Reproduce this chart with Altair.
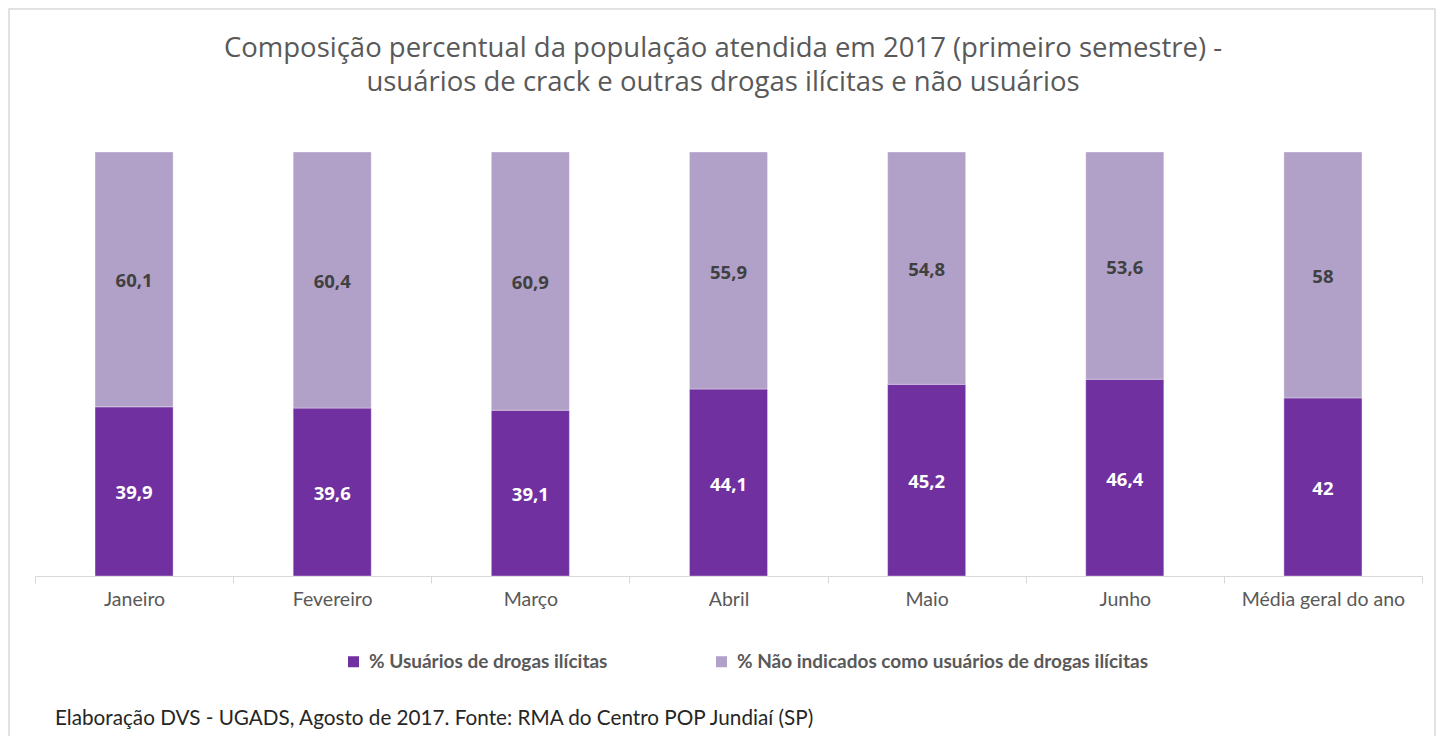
import altair as alt
import pandas as pd

categories = ["Janeiro", "Fevereiro", "Março", "Abril", "Maio", "Junho", "Média geral do ano"]
usuarios = [39.9, 39.6, 39.1, 44.1, 45.2, 46.4, 42]
nao_usuarios = [60.1, 60.4, 60.9, 55.9, 54.8, 53.6, 58]
series = ["% Usuários de drogas ilícitas", "% Não indicados como usuários de drogas ilícitas"]
colors = ["#7030A0", "#B1A0C7"]
label_colors = ["#FFFFFF", "#404040"]
title_lines = [
    "Composição percentual da população atendida em 2017 (primeiro semestre) -",
    "usuários de crack e outras drogas ilícitas e não usuários",
]
footnote = "Elaboração DVS - UGADS, Agosto de 2017. Fonte: RMA do Centro POP Jundiaí (SP)"

rows = []
for i, c in enumerate(categories):
    for s_i, (s, vals) in enumerate(zip(series, [usuarios, nao_usuarios])):
        v = vals[i]
        rows.append({"cat": c, "serie": s, "ord": s_i, "value": v,
                     "label": ("%g" % v).replace(".", ",")})
df = pd.DataFrame(rows)

base = alt.Chart(df).transform_stack(
    stack="value", groupby=["cat"], as_=["y0", "y1"], sort=[alt.SortField("ord")]
).transform_calculate(mid="(datum.y0 + datum.y1) / 2")

xenc = alt.X(
    "cat:N", sort=categories,
    scale=alt.Scale(paddingInner=0, paddingOuter=0),
    axis=alt.Axis(title=None, labelAngle=0, tickBand="extent", domainColor="#D9D9D9",
                  tickColor="#D9D9D9", tickSize=7, labelFont="Lato", labelFontSize=19.5,
                  labelColor="#595959", labelPadding=7, labelLimit=0),
)
yscale = alt.Scale(domain=[0, 100])

bars = base.mark_bar(width=alt.RelativeBandSize(0.394), stroke="white",
                     strokeOpacity=0.35, strokeWidth=1).encode(
    x=xenc,
    y=alt.Y("y0:Q", scale=yscale, axis=None),
    y2="y1:Q",
    color=alt.Color("serie:N", scale=alt.Scale(domain=series, range=colors),
                    legend=alt.Legend(title=None, orient="none", legendX=309, legendY=500,
                                      direction="horizontal", symbolType="square",
                                      symbolSize=121, symbolStrokeWidth=0, labelOffset=6,
                                      labelFont="Lato", labelFontSize=19,
                                      labelFontWeight="bold", labelColor="#595959",
                                      columnPadding=104, labelLimit=0)),
)

labels = base.mark_text(font="Open Sans", fontSize=18.5, fontWeight="bold", dy=2).encode(
    x=alt.X("cat:N", sort=categories),
    y=alt.Y("mid:Q", scale=yscale),
    text="label:N",
    color=alt.Color("serie:N", scale=alt.Scale(domain=series, range=label_colors), legend=None),
)

title = alt.Chart(pd.DataFrame({"a": [0]})).mark_text(
    align="center", baseline="alphabetic", font="Open Sans", fontSize=27.5,
    color="#595959", lineHeight=34
).encode(text=alt.value(title_lines), x=alt.value(688), y=alt.value(-95))

note = alt.Chart(pd.DataFrame({"t": [footnote]})).mark_text(
    align="left", baseline="alphabetic", font="Lato", fontSize=20.7, color="#262626"
).encode(text="t:N", x=alt.value(20), y=alt.value(573))

border = alt.Chart(pd.DataFrame({"a": [0]})).mark_rect(
    fillOpacity=0, stroke="#D9D9D9", strokeWidth=1.5
).encode(x=alt.value(-26), x2=alt.value(1400), y=alt.value(-143), y2=alt.value(700))

chart = alt.layer(border, bars, labels, title, note).resolve_scale(color="independent").properties(
    width=1387, height=424,
    autosize=alt.AutoSizeParams(type="none"),
    padding={"left": 27, "top": 144, "right": 14, "bottom": 160},
).configure_view(stroke=None)

chart.save("out.html", embed_options={"renderer": "svg", "actions": False})
